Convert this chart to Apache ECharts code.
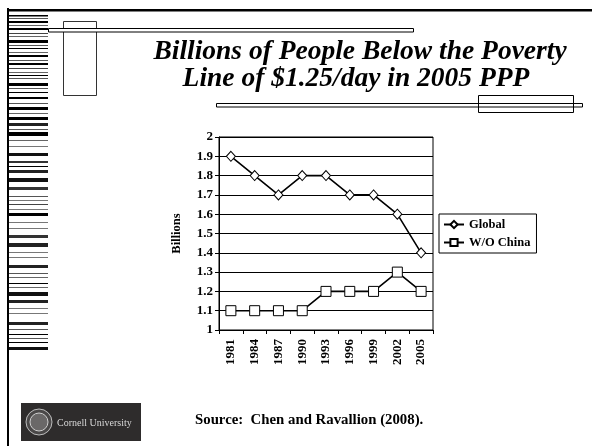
<!DOCTYPE html>
<html>
<head>
<meta charset="utf-8">
<script src="https://cdn.jsdelivr.net/npm/echarts@6/dist/echarts.min.js"></script>
<style>
html,body{margin:0;padding:0;background:#fff;}
#c{width:592px;height:446px;}
</style>
</head>
<body>
<div id="c"></div>
<script>
var years = ['1981','1984','1987','1990','1993','1996','1999','2002','2005'];
var globalPoor = [1.9, 1.8, 1.7, 1.8, 1.8, 1.7, 1.7, 1.6, 1.4];
var withoutChina = [1.1, 1.1, 1.1, 1.1, 1.2, 1.2, 1.2, 1.3, 1.2];
var seriesNames = ['Global', 'W/O China'];
var titleLines = ['Billions of People Below the Poverty', 'Line of $1.25/day in 2005 PPP'];
var sourceText = 'Source:  Chen and Ravallion (2008).';

var FONT = '"Liberation Serif", "Times New Roman", serif';

// decorative barcode stripes on the left margin: [y, height, colour]
var stripes = [[15,1.5,'#000'],[18,1,'#555'],[21,2,'#000'],[25,1,'#666'],[28,2,'#000'],[33,1,'#444'],[36,1,'#666'],[40,3,'#000'],[45,1,'#555'],[48,1,'#000'],[52,1,'#666'],[55,2,'#000'],[60,1,'#555'],[63,2,'#000'],[68,1,'#444'],[72,1,'#666'],[75,1,'#000'],[78,1,'#555'],[83,3,'#000'],[88,1,'#555'],[92,1,'#000'],[97,2,'#000'],[103,1,'#555'],[107,3,'#000'],[113,1,'#666'],[117,3,'#000'],[123,3,'#222'],[129,1,'#555'],[132,4,'#000'],[140,1,'#666'],[146,1,'#777'],[153,3,'#111'],[161,2,'#333'],[166,1,'#000'],[170,3,'#222'],[178,4,'#111'],[187,3,'#333'],[196,1,'#555'],[200,1,'#777'],[204,1,'#444'],[209,1,'#777'],[213,3,'#000'],[222,1,'#777'],[228,1,'#777'],[235,3,'#333'],[243,4,'#222'],[252,1,'#777'],[257,1,'#777'],[265,3,'#222'],[273,1,'#555'],[277,1,'#666'],[283,1,'#000'],[287,1,'#666'],[292,4,'#111'],[300,3,'#222'],[308,1,'#777'],[313,1,'#777'],[322,3,'#222'],[329,1,'#555'],[334,1,'#000'],[338,1,'#555'],[342,1,'#000'],[347,3,'#111']];

var graphics = [];
stripes.forEach(function(s){
  graphics.push({type:'rect', shape:{x:9, y:s[0], width:39, height:s[1]}, style:{fill:s[2]}, z:1});
});
graphics.push({type:'rect', shape:{x:7, y:8, width:2, height:438}, style:{fill:'#000'}, z:2});
graphics.push({type:'rect', shape:{x:7, y:9, width:585, height:2.5}, style:{fill:'#000'}, z:2});
graphics.push({type:'rect', shape:{x:63.5, y:21.5, width:33, height:74}, style:{fill:'none', stroke:'#333', lineWidth:1}, z:2});
graphics.push({type:'rect', shape:{x:48.5, y:28.5, width:365, height:3.5}, style:{fill:'#fff', stroke:'#000', lineWidth:1}, z:3});
graphics.push({type:'rect', shape:{x:216.5, y:103.5, width:366, height:3.5}, style:{fill:'#fff', stroke:'#000', lineWidth:1}, z:3});
graphics.push({type:'rect', shape:{x:478.5, y:95.5, width:95, height:17}, style:{fill:'none', stroke:'#000', lineWidth:1}, z:4});
// title lines
graphics.push({type:'text', x:360, y:52, style:{text:titleLines[0], font:'italic bold 27.5px ' + FONT, fill:'#000', textAlign:'center', textVerticalAlign:'middle'}, z:5});
graphics.push({type:'text', x:356, y:79, style:{text:titleLines[1], font:'italic bold 27.5px ' + FONT, fill:'#000', textAlign:'center', textVerticalAlign:'middle'}, z:5});
// source
graphics.push({type:'text', x:195, y:420, style:{text:sourceText, font:'bold 14.8px ' + FONT, fill:'#000', textAlign:'left', textVerticalAlign:'middle'}, z:5});
// Cornell logo block
graphics.push({type:'rect', shape:{x:21, y:403, width:120, height:38}, style:{fill:'#2e2c2c'}, z:5});
graphics.push({type:'circle', shape:{cx:39, cy:422, r:13}, style:{fill:'#4a4848', stroke:'#bdbdbd', lineWidth:1}, z:6});
graphics.push({type:'circle', shape:{cx:39, cy:422, r:9}, style:{fill:'#6a6868', stroke:'#d0d0d0', lineWidth:1}, z:6});
graphics.push({type:'text', x:57, y:423, style:{text:'Cornell University', font:'10px ' + FONT, fill:'#d8d8d8', textAlign:'left', textVerticalAlign:'middle'}, z:6});

var chart = echarts.init(document.getElementById('c'), null, {renderer:'canvas'});
chart.setOption({
  animation: false,
  backgroundColor: '#fff',
  textStyle: {fontFamily: FONT},
  grid: {left:219, top:137, right:159, bottom:116, show:true, borderColor:'#000', borderWidth:1, backgroundColor:'transparent'},
  legend: {
    orient:'vertical', left:439, top:214, data:seriesNames,
    backgroundColor:'#fff', borderColor:'#000', borderWidth:1,
    padding:[4,6,4,4], itemGap:5, itemWidth:20, itemHeight:9,
    textStyle:{fontFamily:FONT, fontWeight:'bold', fontSize:12.5, color:'#000'}
  },
  xAxis: {
    type:'category', data:years, boundaryGap:true,
    axisLine:{show:true, lineStyle:{color:'#000', width:1}},
    axisTick:{show:true, length:4, inside:false, lineStyle:{color:'#000'}},
    axisLabel:{rotate:90, margin:9, fontFamily:FONT, fontWeight:'bold', fontSize:13, color:'#000'},
    splitLine:{show:false}
  },
  yAxis: {
    type:'value', min:1, max:2, interval:0.1,
    name:'Billions', nameLocation:'middle', nameGap:36, nameRotate:90,
    nameTextStyle:{fontFamily:FONT, fontWeight:'bold', fontSize:12.5, color:'#000'},
    axisLine:{show:true, lineStyle:{color:'#000', width:1}},
    axisTick:{show:true, length:4, lineStyle:{color:'#000'}},
    axisLabel:{margin:6, fontFamily:FONT, fontWeight:'bold', fontSize:13, color:'#000',
      formatter:function(v){ var s = (Math.round(v*10)/10).toFixed(1); return s.replace(/\.0$/,''); }},
    splitLine:{show:true, lineStyle:{color:'#000', width:1}}
  },
  series: [
    {name:seriesNames[0], type:'line', data:globalPoor, symbol:'diamond', symbolSize:[9,10],
     lineStyle:{color:'#000', width:1.6}, itemStyle:{color:'#fff', borderColor:'#000', borderWidth:1}, z:3},
    {name:seriesNames[1], type:'line', data:withoutChina, symbol:'rect', symbolSize:10,
     lineStyle:{color:'#000', width:1.6}, itemStyle:{color:'#fff', borderColor:'#000', borderWidth:1}, z:3}
  ],
  graphic: graphics
});
</script>
</body>
</html>
